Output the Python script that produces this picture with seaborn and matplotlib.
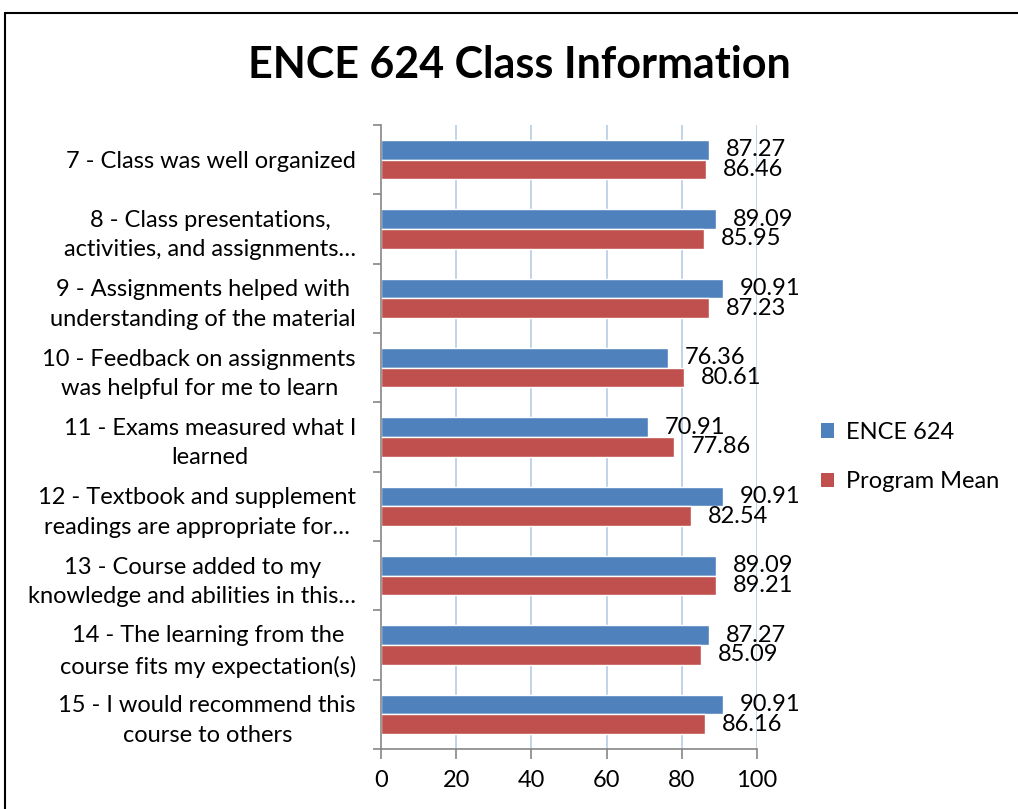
import matplotlib
matplotlib.use("Agg")
import matplotlib.pyplot as plt
from matplotlib.patches import Rectangle, Patch
import seaborn as sns
import pandas as pd
import numpy as np

categories = [
    "7 - Class was well organized",
    "8 - Class presentations,\nactivities, and assignments\u2026",
    "9 - Assignments helped with\nunderstanding of the material",
    "10 - Feedback on assignments\nwas helpful for me to learn",
    "11 - Exams measured what I\nlearned",
    "12 - Textbook and supplement\nreadings are appropriate for\u2026",
    "13 - Course added to my\nknowledge and abilities in this\u2026",
    "14 - The learning from the\ncourse fits my expectation(s)",
    "15 - I would recommend this\ncourse to others",
]
ence_624 = [87.27, 89.09, 90.91, 76.36, 70.91, 90.91, 89.09, 87.27, 90.91]
program_mean = [86.46, 85.95, 87.23, 80.61, 77.86, 82.54, 89.21, 85.09, 86.16]
series_names = ["ENCE 624", "Program Mean"]
x_ticks = [0, 20, 40, 60, 80, 100]
title = "ENCE 624 Class Information"

colors = ["#4F81BD", "#C0504D"]

df = pd.DataFrame({
    "category": categories * 2,
    "value": ence_624 + program_mean,
    "series": [series_names[0]] * len(categories) + [series_names[1]] * len(categories),
})

sns.set_theme(style="white")
plt.rcParams["font.family"] = ["Lato", "DejaVu Sans"]
plt.rcParams["text.color"] = "black"

fig = plt.figure(figsize=(10.18, 8.09), dpi=100)
ax = fig.add_axes([381 / 1018, 1 - 749 / 809, 376 / 1018, 624 / 809])

sns.barplot(data=df, y="category", x="value", hue="series", orient="h",
            palette=colors, width=0.57, ax=ax, legend=False, saturation=1,
            order=categories, hue_order=series_names)

for cont in ax.containers:
    ax.bar_label(cont, fmt="%.2f", padding=12, fontsize=17, color="black")

ax.set_xlim(0, 100)
ax.set_ylim(len(categories) - 0.5, -0.5)
ax.set_xticks(x_ticks)
ax.set_xticklabels([str(t) for t in x_ticks], fontsize=17, color="black")
ax.set_xlabel("")
ax.set_ylabel("")
ax.set_yticks(range(len(categories)))
ax.set_yticklabels(categories, fontsize=17, multialignment="center",
                   linespacing=1.5, color="black")
ax.tick_params(axis="y", which="major", length=0, pad=18)
ax.set_yticks(np.arange(-0.5, len(categories), 1.0), minor=True)
ax.tick_params(axis="y", which="minor", length=6, width=1.2, color="#868686", direction="out", left=True)
ax.tick_params(axis="x", which="major", length=7, width=1.2, color="#868686", direction="out", bottom=True, pad=8)

for g in x_ticks[1:]:
    ax.axvline(g, color="#B8CCE4", lw=1.2, zorder=0)

for s in ["top", "right"]:
    ax.spines[s].set_visible(False)
for s in ["left", "bottom"]:
    ax.spines[s].set_color("#868686")
    ax.spines[s].set_linewidth(1.2)

fig.suptitle(title, x=0.51, y=1 - 65 / 809, va="center", fontsize=31,
             fontweight="bold", color="black")

handles = [Patch(facecolor=c, edgecolor="none") for c in colors]
fig.legend(handles, series_names, loc="center left",
           bbox_to_anchor=(800 / 1018, 1 - 457 / 809), frameon=False,
           fontsize=17, handlelength=0.55, handleheight=0.55, handletextpad=0.5,
           labelspacing=1.2, labelcolor="black")

fig.patches.append(Rectangle((5 / 1018, -0.5), 2, 1 - 13 / 809 + 0.5,
                             transform=fig.transFigure, fill=False,
                             edgecolor="black", lw=1.5))

fig.savefig("out.png", dpi=100)
